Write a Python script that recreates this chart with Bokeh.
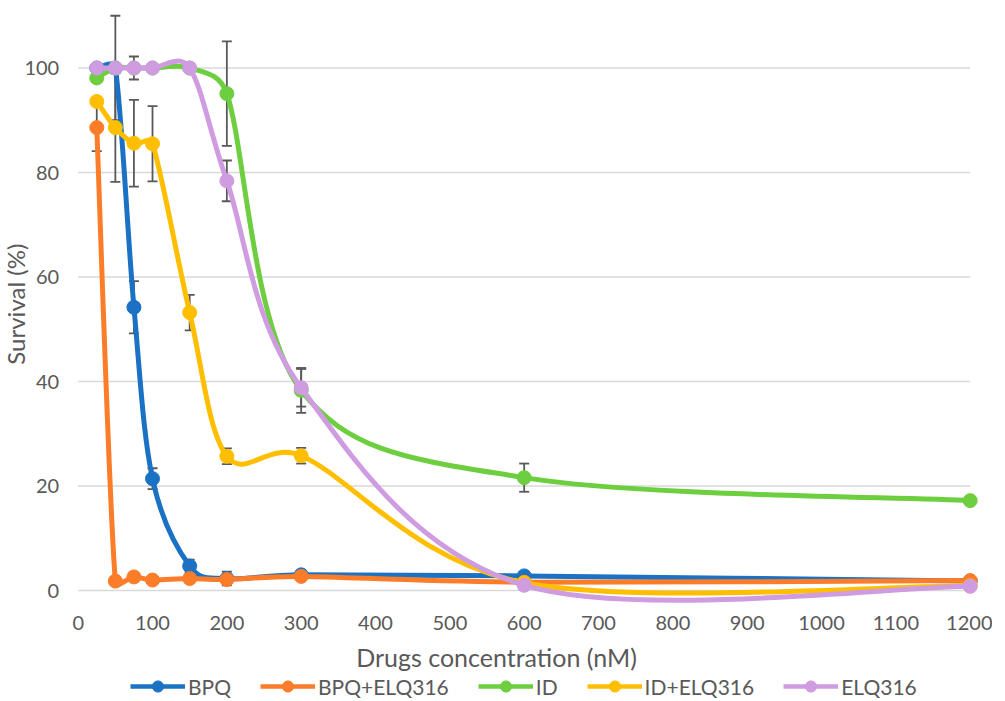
import math
from bokeh.plotting import figure
from bokeh.models import (ColumnDataSource, Whisker, TeeHead, Legend, LegendItem,
                          FixedTicker, Range1d, Label)
from bokeh.embed import file_html
from bokeh.resources import INLINE

# ---------------- data ----------------
conc = [25, 50, 75, 100, 150, 200, 300, 600, 1200]

bpq        = [100.0, 100.0, 54.2, 21.4, 4.7, 2.3, 3.0, 2.8, 1.8]
bpq_err    = [0, 10.0, 5.0, 2.0, 1.2, 1.3, 0, 0, 0]

bpq_elq    = [88.6, 1.8, 2.6, 2.0, 2.3, 2.1, 2.7, 1.6, 1.9]
bpq_elq_err = [4.5, 0, 0, 0, 0, 0, 0, 0, 0]

idd        = [98.1, 100.0, 100.0, 100.0, 100.0, 95.1, 38.3, 21.6, 17.2]
idd_err    = [0, 0, 0, 0, 0, 10.0, 4.3, 2.7, 0]

id_elq     = [93.6, 88.6, 85.6, 85.5, 53.2, 25.7, 25.8, 1.5, 0.9]
id_elq_err = [0, 10.4, 8.3, 7.2, 3.4, 1.5, 1.5, 0, 0]

elq        = [100.0, 100.0, 100.0, 100.0, 100.0, 78.4, 38.8, 1.0, 0.8]
elq_err    = [0, 0, 2.2, 0, 0, 3.9, 3.6, 0, 0]

names  = ["BPQ", "BPQ+ELQ316", "ID", "ID+ELQ316", "ELQ316"]
values = [bpq, bpq_elq, idd, id_elq, elq]
errors = [bpq_err, bpq_elq_err, idd_err, id_elq_err, elq_err]
colors = ["#1B71C4", "#FB7D2A", "#6DCE3F", "#FFBF00", "#CF9BE1"]

x_ticks = list(range(0, 1201, 100))
y_ticks = [0, 20, 40, 60, 80, 100]

FONT = "Lato"
TXT = "#595959"

FW, FH = 992, 691
X0, X1, Y0, Y1 = -104.5, 1230.0, -21.05, 111.2
SX = FW / (X1 - X0)
SY = FH / (Y1 - Y0)

p = figure(frame_width=FW, frame_height=FH, output_backend="svg",
           toolbar_location=None,
           x_range=Range1d(X0, X1), y_range=Range1d(Y0, Y1),
           min_border_left=0, min_border_right=0, min_border_top=9,
           min_border_bottom=0)
p.outline_line_color = None
p.background_fill_color = "white"
p.border_fill_color = "white"

for ax in (p.xaxis[0], p.yaxis[0]):
    ax.axis_line_color = None
    ax.major_tick_line_color = None
    ax.minor_tick_line_color = None
    ax.major_label_text_font = FONT
    ax.major_label_text_font_size = "20px"
    ax.major_label_text_color = TXT
    ax.axis_label_text_font = FONT
    ax.axis_label_text_color = TXT
    ax.axis_label_text_font_style = "normal"
    ax.major_tick_out = 0
    ax.major_tick_in = 0

p.xaxis.ticker = FixedTicker(ticks=x_ticks)
p.yaxis.ticker = FixedTicker(ticks=y_ticks)
p.xaxis.fixed_location = 0
p.yaxis.fixed_location = 0
p.xaxis.axis_label = "Drugs concentration (nM)"
p.xaxis.axis_label_text_font_size = "25px"
p.xaxis.major_label_standoff = 25
p.xaxis.axis_label_standoff = 9
p.yaxis.major_label_standoff = 19

p.xgrid.grid_line_color = None
p.ygrid.grid_line_color = None

# horizontal gridlines limited to the 0..1200 span of the axis
p.segment(x0=[x_ticks[0]] * len(y_ticks), x1=[x_ticks[-1]] * len(y_ticks),
          y0=y_ticks, y1=y_ticks, line_color="#D9D9D9", line_width=1.3,
          level="underlay")

# y axis title
p.add_layout(Label(x=X0 + 15 / SX, y=54.8, text="Survival (%)",
                   angle=math.pi / 2, text_align="center",
                   text_baseline="middle", text_font=FONT,
                   text_font_size="24px", text_color=TXT))


def _d(a, b):
    return (((b[0] - a[0]) * SX) ** 2 + ((b[1] - a[1]) * SY) ** 2) ** 0.5


def bezier_parts(xs, ys):
    pts = list(zip(xs, ys))
    n = len(pts)
    d = dict(x0=[], y0=[], x1=[], y1=[], cx0=[], cy0=[], cx1=[], cy1=[])
    for i in range(n - 1):
        P0 = pts[i - 1] if i > 0 else pts[i]
        P1 = pts[i]
        P2 = pts[i + 1]
        P3 = pts[i + 2] if i + 2 < n else pts[i + 1]
        d12 = _d(P1, P2)
        d02 = _d(P0, P2)
        d13 = _d(P1, P3)
        f1 = 1 / 6.0
        if d02 / 6.0 > d12 / 2.0 and d02 > 0:
            f1 = d12 / (2.0 * d02)
        f2 = 1 / 6.0
        if d13 / 6.0 > d12 / 2.0 and d13 > 0:
            f2 = d12 / (2.0 * d13)
        d["x0"].append(P1[0]); d["y0"].append(P1[1])
        d["x1"].append(P2[0]); d["y1"].append(P2[1])
        d["cx0"].append(P1[0] + (P2[0] - P0[0]) * f1)
        d["cy0"].append(P1[1] + (P2[1] - P0[1]) * f1)
        d["cx1"].append(P2[0] - (P3[0] - P1[0]) * f2)
        d["cy1"].append(P2[1] - (P3[1] - P1[1]) * f2)
    return d


for vals, errs in zip(values, errors):
    xs = [x for x, e in zip(conc, errs) if e > 0]
    up = [v + e for v, e in zip(vals, errs) if e > 0]
    lo = [v - e for v, e in zip(vals, errs) if e > 0]
    src = ColumnDataSource(dict(base=xs, upper=up, lower=lo))
    w = Whisker(source=src, base="base", upper="upper", lower="lower",
                line_color="#595959", line_width=1.8, level="underlay",
                upper_head=TeeHead(size=10, line_color="#595959", line_width=1.8),
                lower_head=TeeHead(size=10, line_color="#595959", line_width=1.8))
    p.add_layout(w)

items = []
for name, vals, col in zip(names, values, colors):
    bsrc = ColumnDataSource(bezier_parts(conc, vals))
    p.bezier(x0="x0", y0="y0", x1="x1", y1="y1", cx0="cx0", cy0="cy0",
             cx1="cx1", cy1="cy1", source=bsrc, line_color=col,
             line_width=5, line_cap="round")
    sr = p.scatter(conc, vals, size=14, marker="circle", fill_color=col,
                   line_color=col, line_width=1)
    # line with no drawable points, only used for the legend swatch
    lr = p.line(x=conc, y=[float("nan")] * len(conc), line_color=col,
                line_width=4.5)
    items.append(LegendItem(label=name, renderers=[lr, sr]))

legend = Legend(items=items, orientation="horizontal", location=(130, 0),
                border_line_color=None, background_fill_alpha=0,
                label_text_font=FONT, label_text_font_size="21px",
                label_text_color=TXT, glyph_width=55, glyph_height=28,
                label_standoff=3, spacing=29, padding=0, margin=0)
p.add_layout(legend, "center")

open("out.html", "w").write(file_html(p, INLINE))
